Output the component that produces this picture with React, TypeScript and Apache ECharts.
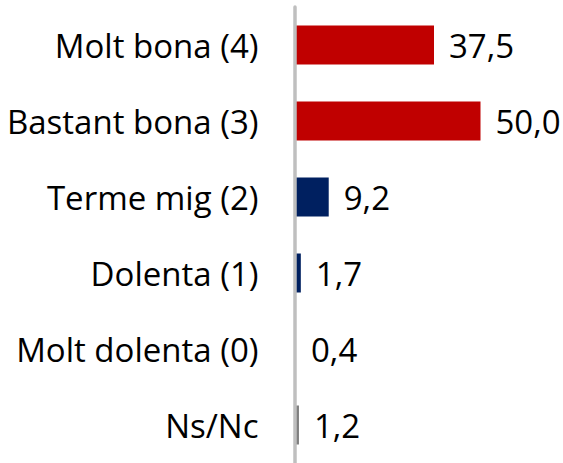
import React, { useEffect, useRef } from "react";
import * as echarts from "echarts";

const categories = ["Molt bona (4)", "Bastant bona (3)", "Terme mig (2)", "Dolenta (1)", "Molt dolenta (0)", "Ns/Nc"];
const values = [37.5, 50.0, 9.2, 1.7, 0.4, 1.2];
const colors = ["#C00000", "#C00000", "#002060", "#002060", "#002060", "#7F7F7F"];

const FONT = "Open Sans";

export default function App() {
  const ref = useRef<HTMLDivElement>(null);
  useEffect(() => {
    if (!ref.current) return;
    const chart = echarts.init(ref.current, null, { renderer: "svg" });
    chart.setOption({
      animation: false,
      backgroundColor: "#ffffff",
      grid: { left: 294.5, top: 7, width: 186, height: 458, containLabel: false },
      xAxis: {
        type: "value",
        min: 0,
        max: 50,
        show: false,
      },
      yAxis: {
        type: "category",
        data: categories,
        inverse: true,
        z: 5,
        axisLine: { show: true, lineStyle: { color: "#BFBFBF", width: 3.5 } },
        axisTick: { show: false },
        axisLabel: {
          margin: 36,
          fontFamily: FONT,
          fontSize: 33,
          color: "#000000",
        },
      },
      series: [
        {
          type: "bar",
          barWidth: 39,
          z: 2,
          data: values.map((v, i) => ({ value: v, itemStyle: { color: colors[i] } })),
          label: {
            show: true,
            position: "right",
            distance: 15,
            fontFamily: FONT,
            fontSize: 33,
            color: "#000000",
            formatter: (p: any) => p.value.toFixed(1).replace(".", ","),
          },
        },
      ],
    });
    return () => chart.dispose();
  }, []);
  return <div ref={ref} style={{ position: "fixed", left: 0, top: 0, width: 563, height: 463 }} />;
}
